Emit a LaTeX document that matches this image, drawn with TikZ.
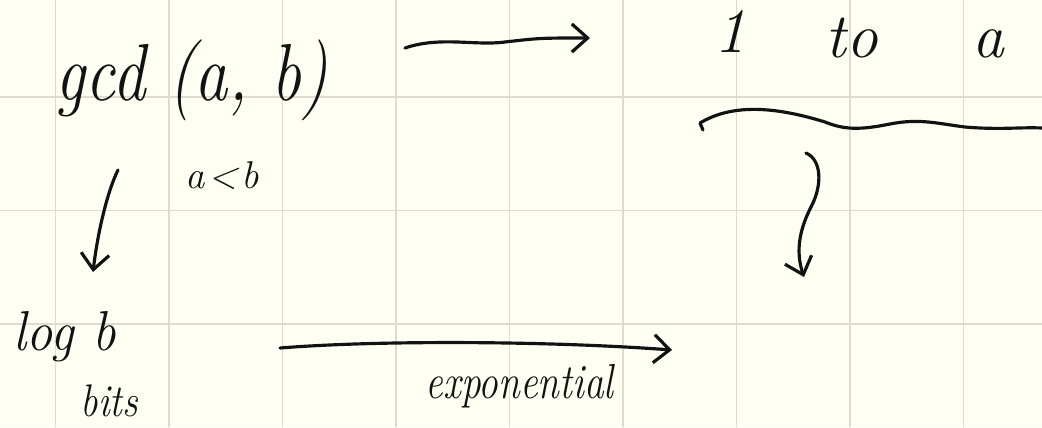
\documentclass[tikz,border=0pt]{standalone}
\usepackage{graphicx}
\usetikzlibrary{arrows.meta,calc}
\definecolor{paper}{RGB}{255,254,242}
\definecolor{gridc}{RGB}{222,220,208}
\definecolor{ink}{RGB}{18,18,18}
\newcommand{\hw}[3]{\scalebox{#2}[1]{\fontsize{#1}{#1}\selectfont\itshape #3}}
\begin{document}
\begin{tikzpicture}[x=0.01cm, y=-0.01cm, >={Straight Barb[length=4.5pt,width=8pt]},
  line cap=round, line join=round,
  hand/.style={draw=ink, line width=0.9pt},
  txt/.style={text=ink, inner sep=0pt}]
  % paper and grid
  \fill[paper] (0,0) rectangle (1042,427);
  \useasboundingbox (0,0) rectangle (1042,427);
  \foreach \k in {0,...,8}
    \draw[gridc, line width=0.4pt] ({55.5+113.5*\k},0) -- ({55.5+113.5*\k},427);
  \foreach \k in {0,1,2}
    \draw[gridc, line width=0.4pt] (0,{97+113.5*\k}) -- (1042,{97+113.5*\k});

  % texts
  \node[txt, anchor=base west] (gcd) at (55,100) {\hw{23pt}{0.82}{gcd (a, b)}};
  \node[txt, anchor=base] (one) at (730,52) {\hw{18pt}{1}{1}};
  \node[txt, anchor=base] (to) at (852,57) {\hw{18pt}{1}{to}};
  \node[txt, anchor=base] (aa) at (988,57) {\hw{18pt}{1}{a}};
  \node[txt, anchor=base west] (altb) at (185,188) {\hw{11pt}{1}{a\kern1pt<\kern1pt b}};
  \node[txt, anchor=base west] (logb) at (13,350) {\hw{16pt}{0.93}{log\ b}};
  \node[txt, anchor=base west] (bits) at (80,416) {\hw{13pt}{0.85}{bits}};
  \node[txt, anchor=base west] (expo) at (425,398) {\hw{14pt}{0.8}{exponential}};

  % connectors
  \coordinate (t1) at (405,48);
  \coordinate (t2) at (590,38);
  \draw[hand, ->] (t1) .. controls (440,36) and (475,46) .. (505,42)
    .. controls (540,38) .. (t2);

  \coordinate (w1) at (703,130);
  \coordinate (w2) at (1042,128);
  \draw[hand] (w1) -- (700,123) .. controls (730,105) and (770,105) .. (825,122)
    .. controls (845,130) and (860,130) .. (890,124)
    .. controls (920,118) and (940,124) .. (965,127)
    .. controls (1000,130) and (1020,127) .. (w2);

  \coordinate (s1) at (806,153);
  \coordinate (s2) at (804,277);
  \draw[hand, ->] (s1) .. controls (822,160) and (822,185) .. (812,205)
    .. controls (800,228) and (795,250) .. (s2);

  \coordinate (d1) at (118,170);
  \coordinate (d2) at (93,272);
  \draw[hand, ->] (d1) .. controls (108,190) and (98,230) .. (d2);

  \coordinate (b1) at (280,348);
  \coordinate (b2) at (672,350);
  \draw[hand, ->] (b1) .. controls (380,340) and (550,341) .. (b2);
\end{tikzpicture}
\end{document}
